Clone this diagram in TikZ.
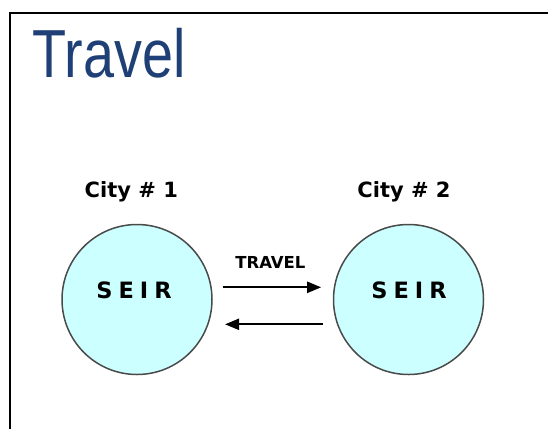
\documentclass[tikz,border=0pt]{standalone}
\usepackage{fontspec}
\setmainfont{DejaVu Sans}
\newfontfamily\titlefont{Liberation Sans}
\usetikzlibrary{arrows.meta}
\definecolor{titleblue}{HTML}{1F3F77}
\definecolor{cityfill}{HTML}{CCFFFF}
\definecolor{circline}{HTML}{4A4A4A}
\begin{document}
\begin{tikzpicture}[x=1pt,y=-1pt,
  city/.style={circle, draw=circline, line width=1.5pt, fill=cityfill,
    minimum size=150pt, inner sep=0pt, outer sep=0pt},
  citylbl/.style={inner sep=0pt, anchor=base, font=\bfseries\fontsize{21}{21}\selectfont},
  seirlbl/.style={inner sep=0pt, anchor=base, font=\bfseries\fontsize{22.5}{22.5}\selectfont},
  travellbl/.style={inner sep=0pt, anchor=base, font=\bfseries\fontsize{16.5}{16.5}\selectfont},
  arr/.style={line width=2.2pt, -{Triangle[length=14pt,width=11pt]}}]
\useasboundingbox (0,0) rectangle (548,429);
\draw[line width=2pt] (548,12.5) -- (10,12.5) -- (10,429);
\node[anchor=base west, inner sep=0pt, text=titleblue,
  font=\titlefont\fontsize{68}{68}\selectfont, xscale=0.82] (title) at (32.7,77.6) {Travel};
\node[city] (c1) at (137,299.5) {};
\node[city] (c2) at (408.5,299.5) {};
\node[seirlbl] (s1) at (134,298.3) {S\hspace{6pt}E\hspace{6pt}I\hspace{6pt}R};
\node[seirlbl] (s2) at (409,298.3) {S\hspace{6pt}E\hspace{6pt}I\hspace{6pt}R};
\node[citylbl] (city1) at (131.3,197.7) {City \# 1};
\node[citylbl] (city2) at (404,197.7) {City \# 2};
\node[travellbl] (travel) at (270.4,268.3) {TRAVEL};
\draw[arr, shorten <=10.7pt, shorten >=12.3pt] ([yshift=12.2pt]c1.east) -- ([yshift=12.2pt]c2.west);
\draw[arr, shorten <=10.3pt, shorten >=13pt] ([yshift=-24.8pt]c2.west) -- ([yshift=-24.8pt]c1.east);
\end{tikzpicture}
\end{document}
